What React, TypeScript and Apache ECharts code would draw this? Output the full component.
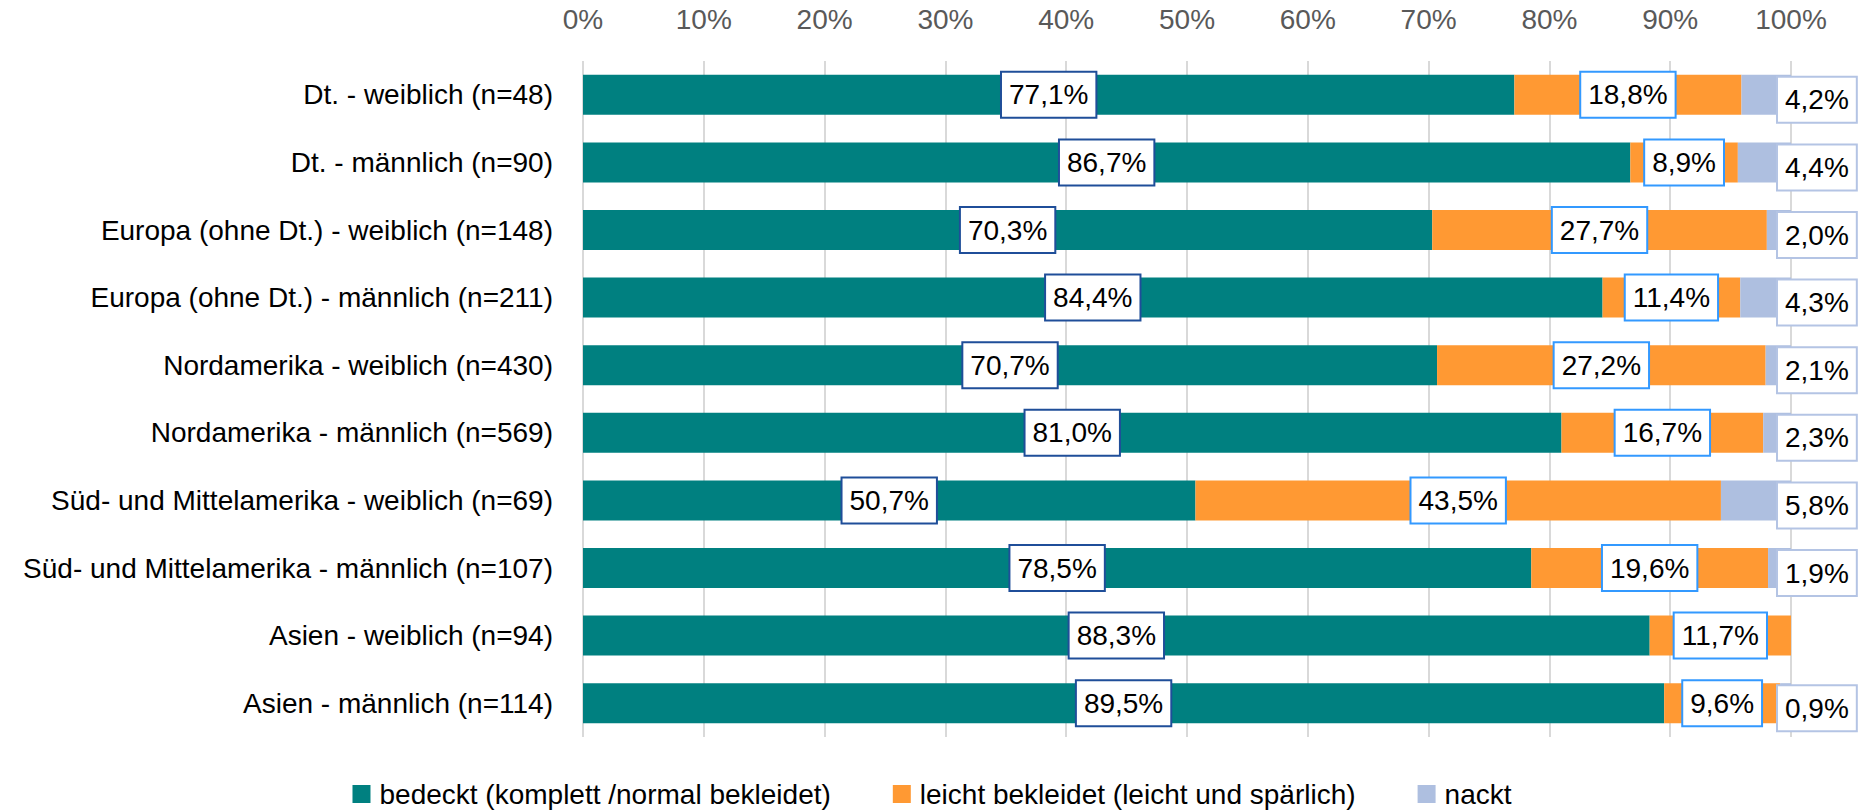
import React, { useEffect, useRef } from "react";
import * as echarts from "echarts";

const categories = [
  "Dt. - weiblich (n=48)",
  "Dt. - männlich (n=90)",
  "Europa (ohne Dt.) - weiblich (n=148)",
  "Europa (ohne Dt.) - männlich (n=211)",
  "Nordamerika - weiblich (n=430)",
  "Nordamerika - männlich (n=569)",
  "Süd- und Mittelamerika - weiblich (n=69)",
  "Süd- und Mittelamerika - männlich (n=107)",
  "Asien - weiblich (n=94)",
  "Asien - männlich (n=114)",
];

const seriesNames = [
  "bedeckt (komplett /normal bekleidet)",
  "leicht bekleidet (leicht und spärlich)",
  "nackt",
];

const bedeckt = [77.1, 86.7, 70.3, 84.4, 70.7, 81.0, 50.7, 78.5, 88.3, 89.5];
const leicht = [18.8, 8.9, 27.7, 11.4, 27.2, 16.7, 43.5, 19.6, 11.7, 9.6];
const nackt = [4.2, 4.4, 2.0, 4.3, 2.1, 2.3, 5.8, 1.9, 0, 0.9];

const xTicks = { min: 0, max: 100, interval: 10 };

const FONT = "'Liberation Sans', Arial, sans-serif";
const colors = ["#008080", "#FF9933", "#AEBFE0"];
const borderColors = ["#1F4E99", "#3399FF", "#B4C4E4"];

const fmt = (v: number) => v.toFixed(1).replace(".", ",") + "%";

export default function App() {
  const ref = useRef<HTMLDivElement>(null);

  useEffect(() => {
    if (!ref.current) return;
    const chart = echarts.init(ref.current, undefined, { renderer: "svg" });

    const labelBase = (i: number) => ({
      show: true,
      fontFamily: FONT,
      fontSize: 28,
      color: "#000",
      backgroundColor: "#fff",
      borderColor: borderColors[i],
      borderWidth: 2,
      padding: [5, 7, 5, 7],
      lineHeight: 34,
      formatter: (p: any) => fmt(p.value),
    });

    const mk = (arr: number[]) =>
      arr.map((v) => (v === 0 ? { value: v, label: { show: false } } : v));

    const series: any[] = [bedeckt, leicht, nackt].map((arr, i) => ({
      name: seriesNames[i],
      type: "bar",
      stack: "total",
      barWidth: 40,
      data: mk(arr),
      itemStyle: { color: colors[i] },
      label:
        i < 2
          ? { ...labelBase(i), position: "inside" }
          : { ...labelBase(i), position: "right", distance: 0, offset: [-13, 5] },
      emphasis: { disabled: true },
    }));

    chart.setOption({
      animation: false,
      grid: { left: 583, right: 73, top: 61, bottom: 73, containLabel: false },
      legend: {
        data: seriesNames,
        top: 778,
        left: "center",
        padding: 0,
        itemWidth: 18,
        itemHeight: 18,
        itemGap: 62,
        icon: "rect",
        textStyle: {
          fontFamily: FONT,
          fontSize: 28,
          color: "#000",
          lineHeight: 32,
          padding: [0, 0, 0, 4],
        },
      },
      xAxis: {
        type: "value",
        position: "top",
        min: xTicks.min,
        max: xTicks.max,
        interval: xTicks.interval,
        axisLine: { show: false },
        axisTick: { show: false },
        splitLine: { show: true, lineStyle: { color: "#D9D9D9", width: 2 } },
        axisLabel: {
          formatter: "{value}%",
          fontFamily: FONT,
          fontSize: 28,
          color: "#595959",
          margin: 28,
        },
      },
      yAxis: {
        type: "category",
        inverse: true,
        data: categories,
        axisLine: { show: false },
        axisTick: { show: false },
        axisLabel: {
          fontFamily: FONT,
          fontSize: 28,
          color: "#000",
          margin: 30,
        },
      },
      series,
    });

    return () => chart.dispose();
  }, []);

  return (
    <div
      ref={ref}
      style={{ position: "fixed", left: 0, top: 0, width: 1864, height: 810, background: "#fff" }}
    />
  );
}
